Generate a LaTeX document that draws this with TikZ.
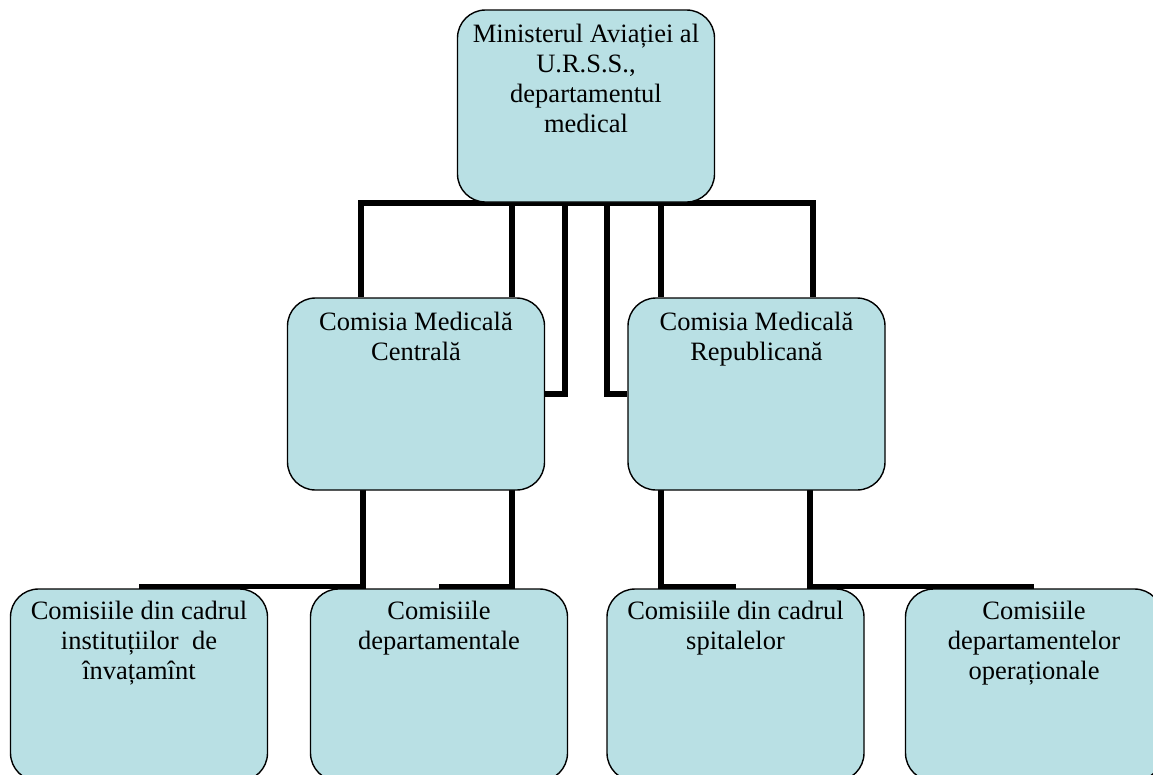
\documentclass[tikz,border=0pt]{standalone}
\usepackage{fontspec}
\setmainfont{Liberation Serif}
\definecolor{boxfill}{RGB}{185,224,228}
\tikzset{
  orgbox/.style={draw=black, line width=1.4pt, fill=boxfill, rounded corners=28pt,
    minimum width=257pt, minimum height=192pt, inner sep=0pt, text width=0pt},
  boxtext/.style={anchor=north, align=center, inner sep=0pt,
    font=\fontsize{26.5}{30}\selectfont},
  conn/.style={draw=black, line width=5.5pt}
}
\begin{document}
\begin{tikzpicture}[x=1pt,y=-1pt]
\clip (0,0) rectangle (1153,774);
\fill[white] (0,0) rectangle (1153,774);
% bus coordinates
\coordinate (busL) at (361,203);
\coordinate (busR) at (813,203);
\coordinate (a1) at (512,203);
\coordinate (a2) at (565,203);
\coordinate (a3) at (607,203);
\coordinate (a4) at (661,203);
\coordinate (c1) at (363,490);
\coordinate (c2) at (512,490);
\coordinate (c3) at (661,490);
\coordinate (c4) at (810,490);
% box positions (invisible, used by connectors)
\path (586,106) node[orgbox, draw=none, fill=none] (min) {};
\path (416,394) node[orgbox, draw=none, fill=none] (cmc) {};
\path (756.5,394) node[orgbox, draw=none, fill=none] (cmr) {};
\path (139,685) node[orgbox, draw=none, fill=none] (b1) {};
\path (439,685) node[orgbox, draw=none, fill=none] (b2) {};
\path (735.5,685) node[orgbox, draw=none, fill=none] (b3) {};
\path (1034,685) node[orgbox, draw=none, fill=none] (b4) {};
% connectors
\draw[conn] (cmc.north -| busL) -- (busL) -- (busR) -- (cmr.north -| busR);
\draw[conn] (a1) -- (cmc.north -| a1);
\draw[conn] (a2) |- (cmc.east);
\draw[conn] (a3) |- (cmr.west);
\draw[conn] (a4) -- (cmr.north -| a4);
\draw[conn] (c1) |- ([yshift=2pt]b1.north);
\draw[conn] (c2) |- ([yshift=2pt]b2.north);
\draw[conn] (c3) |- ([yshift=2pt]b3.north);
\draw[conn] (c4) |- ([yshift=2pt]b4.north);
% visible boxes
\node[orgbox] (minB) at (min) {};
\node[orgbox] (cmcB) at (cmc) {};
\node[orgbox] (cmrB) at (cmr) {};
\node[orgbox] (b1B) at (b1) {};
\node[orgbox] (b2B) at (b2) {};
\node[orgbox] (b3B) at (b3) {};
\node[orgbox] (b4B) at (b4) {};
% texts
\node[boxtext] (tmin) at ([yshift=-15pt]min.north) {Ministerul Aviației al\\U.R.S.S.,\\departamentul\\medical};
\node[boxtext] (tcmc) at ([yshift=-15pt]cmc.north) {Comisia Medicală\\Centrală};
\node[boxtext] (tcmr) at ([yshift=-15pt]cmr.north) {Comisia Medicală\\Republicană};
\node[boxtext] (tb1) at ([yshift=-13pt]b1.north) {Comisiile din cadrul\\instituțiilor\ \ de\\învațamînt};
\node[boxtext] (tb2) at ([yshift=-13pt]b2.north) {Comisiile\\departamentale};
\node[boxtext] (tb3) at ([yshift=-13pt]b3.north) {Comisiile din cadrul\\spitalelor};
\node[boxtext] (tb4) at ([yshift=-13pt]b4.north) {Comisiile\\departamentelor\\operaționale};
\end{tikzpicture}
\end{document}
